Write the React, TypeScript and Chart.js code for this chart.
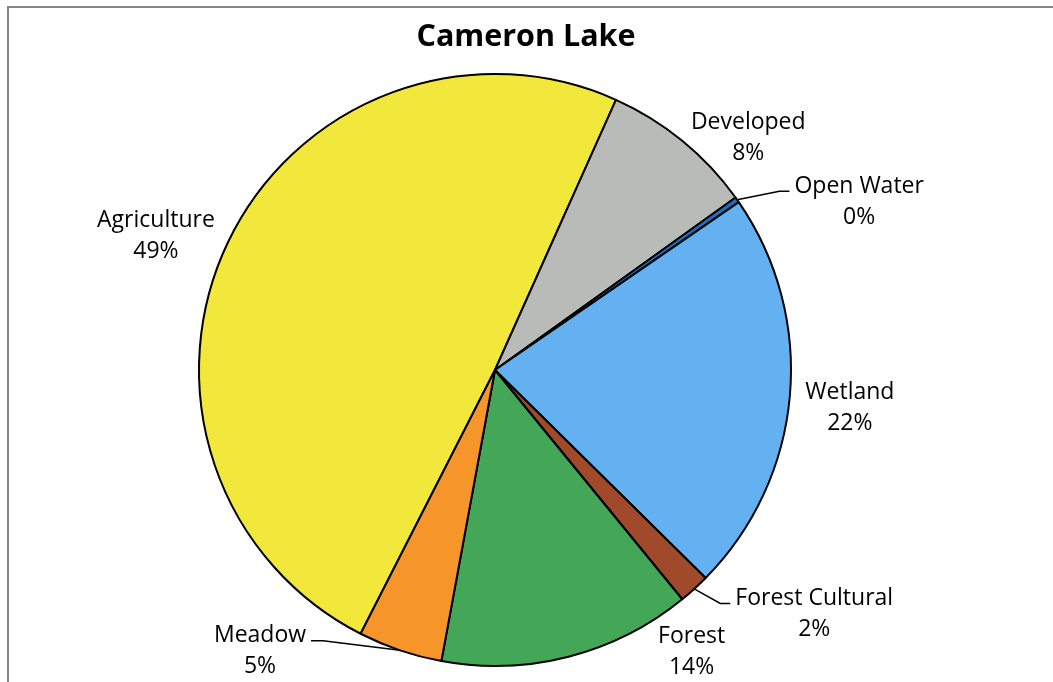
import React, { useEffect, useRef } from "react";
import { Chart, registerables } from "chart.js";

Chart.register(...registerables);

const TITLE = "Cameron Lake";
const CATEGORIES = ["Agriculture", "Developed", "Open Water", "Wetland", "Forest Cultural", "Forest", "Meadow"];
const VALUES = [49.2, 8.4, 0.3, 22.0, 1.7, 13.8, 4.6];
const COLORS = ["#F1E83B", "#B9BBB8", "#1E6EBE", "#63B1F0", "#A04A2B", "#44A758", "#F5952A"];

const FONT = "'Open Sans', sans-serif";

// label placement relative to each arc's outer mid-point (dx, dy) and whether to draw a leader
const LABEL_LAYOUT: { dx: number; dy: number; leader?: "left" | "right" }[] = [
  { dx: -72, dy: -6 },
  { dx: 66, dy: -3 },
  { dx: 122, dy: 2, leader: "right" },
  { dx: 60, dy: 12 },
  { dx: 120, dy: 25, leader: "right" },
  { dx: 123, dy: -5 },
  { dx: -140, dy: 1, leader: "left" },
];

const labelPlugin = {
  id: "pieLabels",
  afterDraw(chart: any) {
    const ctx = chart.ctx;
    const meta = chart.getDatasetMeta(0);
    const data = chart.data.datasets[0].data as number[];
    const total = data.reduce((a, b) => a + b, 0);
    ctx.save();
    // title
    ctx.fillStyle = "#000";
    ctx.font = `bold 30.5px ${FONT}`;
    ctx.textAlign = "center";
    ctx.textBaseline = "middle";
    ctx.fillText(TITLE, 526, 37);

    ctx.font = `23px ${FONT}`;
    const lineGap = 31;
    meta.data.forEach((arc: any, i: number) => {
      const { x, y, startAngle, endAngle, outerRadius } = arc.getProps(["x", "y", "startAngle", "endAngle", "outerRadius"], true);
      const mid = (startAngle + endAngle) / 2;
      const ax = x + Math.cos(mid) * outerRadius;
      const ay = y + Math.sin(mid) * outerRadius;
      const lay = LABEL_LAYOUT[i];
      const cx = ax + lay.dx;
      const cy = ay + lay.dy;
      const l1 = CATEGORIES[i];
      const l2 = Math.round((data[i] / total) * 100) + "%";
      const y1 = cy - lineGap / 2;
      const y2 = cy + lineGap / 2;
      ctx.fillStyle = "#000";
      ctx.textAlign = "center";
      ctx.textBaseline = "middle";
      ctx.fillText(l1, cx, y1);
      ctx.fillText(l2, cx, y2);
      if (lay.leader) {
        const w = ctx.measureText(l1).width;
        const ly = y1 + 5;
        ctx.strokeStyle = "#000";
        ctx.lineWidth = 1.5;
        ctx.beginPath();
        if (lay.leader === "right") {
          const ex = cx - w / 2 - 5;
          ctx.moveTo(ax, ay);
          ctx.lineTo(ex - 10, ly);
          ctx.lineTo(ex, ly);
        } else {
          const ex = cx + w / 2 + 5;
          ctx.moveTo(ax, ay);
          ctx.lineTo(ex + 12, ly);
          ctx.lineTo(ex, ly);
        }
        ctx.stroke();
      }
    });
    ctx.restore();
  },
};

export default function App() {
  const ref = useRef<HTMLCanvasElement>(null);
  useEffect(() => {
    document.body.style.margin = "0";
    const chart = new Chart(ref.current as HTMLCanvasElement, {
      type: "pie",
      data: {
        labels: CATEGORIES,
        datasets: [
          {
            data: VALUES,
            backgroundColor: COLORS,
            borderColor: "#000",
            borderWidth: 2,
            radius: 296,
          } as any,
        ],
      },
      options: {
        animation: false,
        responsive: false,
        rotation: 207,
        layout: { padding: { left: 0, right: 63, top: 58, bottom: 0 } },
        plugins: {
          legend: { display: false },
          title: { display: false },
          tooltip: { enabled: false },
        },
      },
      plugins: [labelPlugin],
    });
    return () => chart.destroy();
  }, []);
  return (
    <div style={{ position: "relative", width: 1053, height: 682, overflow: "hidden", background: "#fff" }}>
      <div
        style={{
          position: "absolute",
          left: 7,
          top: 6,
          width: 1100,
          height: 720,
          borderLeft: "2px solid #858585",
          borderTop: "2px solid #858585",
        }}
      />
      <canvas ref={ref} width={1053} height={682} style={{ position: "absolute", left: 0, top: 0, width: 1053, height: 682 }} />
    </div>
  );
}
